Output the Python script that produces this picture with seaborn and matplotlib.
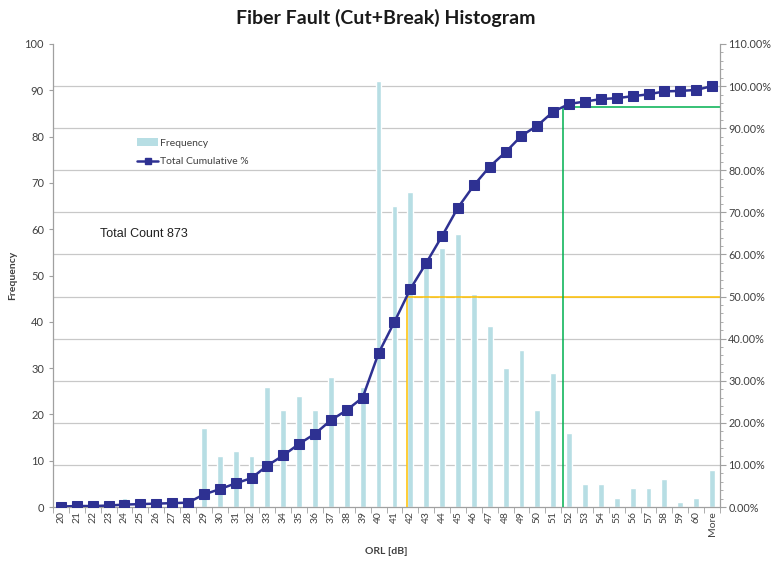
import matplotlib
matplotlib.use("Agg")
import matplotlib.pyplot as plt
from matplotlib.lines import Line2D
from matplotlib.patches import Patch
import seaborn as sns
import pandas as pd
import numpy as np

# ORL bins (dB) and fault counts
bins = [str(b) for b in range(20, 61)] + ["More"]
freq = [1, 1, 0, 1, 2, 1, 1, 1, 1,
        17, 11, 12, 11, 26, 21, 24, 21, 28, 21, 26,
        92, 65, 68, 54, 56, 59, 46, 39, 30, 34,
        21, 29, 16, 5, 5, 2, 4, 4, 6, 1, 2, 8]

bar_color = "#B7DEE4"
line_color = "#2E3192"
grid_color = "#C8C8C8"
text_color = "#404040"


def plot():
    df = pd.DataFrame({"ORL": bins, "Frequency": freq})
    df["pos"] = np.arange(len(df))
    total = df["Frequency"].sum()
    df["cum"] = df["Frequency"].cumsum() / total

    sns.set_style("white")
    plt.rcParams["font.family"] = ["Lato", "DejaVu Sans"]

    fig = plt.figure(figsize=(7.72, 5.61), dpi=100)
    ax = fig.add_axes([53 / 772, 1 - 507 / 561, 667 / 772, 463 / 561])

    sns.barplot(data=df, x="ORL", y="Frequency", color=bar_color,
                width=0.37, saturation=1, ax=ax, zorder=2)
    ax.set_xlim(-0.5, len(df) - 0.5)
    ax.set_ylim(0, 100)
    ax.set_yticks(np.arange(0, 101, 10))
    # gridlines follow the right-hand percent axis (10% steps)
    ax.set_yticks(np.arange(0, 1.101, 0.1) * 100 / 1.1, minor=True)
    ax.yaxis.grid(True, which="minor", color=grid_color, linewidth=0.9, zorder=0)
    ax.yaxis.grid(False, which="major")
    ax.tick_params(axis="y", which="minor", length=0)
    ax.tick_params(axis="y", which="major", length=3, color="#A0A0A0",
                   labelsize=8, labelcolor=text_color, left=True)
    ax.set_xticks(np.arange(-0.5, len(df), 1.0), minor=True)
    ax.tick_params(axis="x", which="minor", length=4, color="#A0A0A0", bottom=True)
    ax.tick_params(axis="x", which="major", length=0, labelsize=7.5,
                   labelcolor=text_color, labelrotation=90, pad=3)
    ax.set_xlabel("ORL [dB]", fontsize=7.5, fontweight="bold", color=text_color, labelpad=8)
    ax.set_ylabel("Frequency", fontsize=7.5, fontweight="bold", color=text_color, labelpad=5)
    for side in ["top", "right"]:
        ax.spines[side].set_visible(False)
    for side in ["left", "bottom"]:
        ax.spines[side].set_color("#A0A0A0")
        ax.spines[side].set_linewidth(0.9)

    ax2 = ax.twinx()
    ax2.set_ylim(0, 1.1)
    # median (50%) and 95% markers, crossing points interpolated on the curve
    x50 = np.interp(0.5, df["cum"], df["pos"])
    x95 = np.interp(0.95, df["cum"], df["pos"])
    right = len(df) - 0.5
    ax2.plot([x50, x50, right], [0, 0.5, 0.5], color="#FFC000", linewidth=1.1, zorder=2)
    ax2.plot([x95, x95, right], [0, 0.95, 0.95], color="#00B050", linewidth=1.1, zorder=2)
    sns.lineplot(data=df, x="pos", y="cum", color=line_color, marker="s",
                 markersize=6.5, markeredgecolor=line_color, linewidth=1.8,
                 ax=ax2, zorder=3)
    ax2.set_xlim(-0.5, len(df) - 0.5)
    ax2.set_yticks(np.arange(0, 1.101, 0.1))
    ax2.set_yticklabels([f"{v * 100:.2f}%" for v in np.arange(0, 1.101, 0.1)])
    ax2.set_yticks(np.arange(0, 1.101, 0.02), minor=True)
    ax2.tick_params(axis="y", which="major", length=4, color="#A0A0A0", pad=2,
                    labelsize=7.8, labelcolor=text_color, right=True)
    ax2.tick_params(axis="y", which="minor", length=2, color="#A0A0A0", right=True)
    ax2.set_ylabel("")
    ax2.set_xlabel("")
    for side in ["top", "left", "bottom"]:
        ax2.spines[side].set_visible(False)
    ax2.spines["right"].set_color("#A0A0A0")
    ax2.spines["right"].set_linewidth(0.9)

    handles = [Patch(facecolor=bar_color, edgecolor="none", label="Frequency"),
               Line2D([0], [0], color=line_color, marker="s", markersize=4,
                      linewidth=1.8, label="Total Cumulative %")]
    fig.legend(handles=handles, loc="upper left", bbox_to_anchor=(128 / 772, 1 - 129 / 561),
               frameon=False, fontsize=7.5, handlelength=2.0, labelspacing=0.9,
               handletextpad=0.2, labelcolor=text_color)

    fig.text(100 / 772, 1 - 234 / 561, f"Total Count {total}", fontsize=9,
             family=["Liberation Sans", "DejaVu Sans"], color="#202020", va="center")
    fig.text(0.5, 1 - 18 / 561, "Fiber Fault (Cut+Break) Histogram", fontsize=14,
             fontweight="bold", ha="center", va="center", color="#1a1a1a")

    fig.savefig("out.png", dpi=100)
    plt.close(fig)


if __name__ == "__main__":
    plot()
